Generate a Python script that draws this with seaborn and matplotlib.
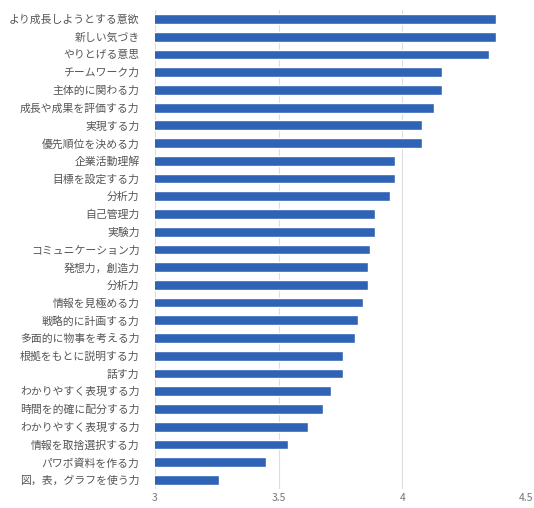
import pandas as pd
import matplotlib
matplotlib.use("Agg")
import matplotlib.pyplot as plt
import seaborn as sns

skills = [
    "より成長しようとする意欲", "新しい気づき", "やりとげる意思", "チームワーク力",
    "主体的に関わる力", "成長や成果を評価する力", "実現する力", "優先順位を決める力",
    "企業活動理解", "目標を設定する力", "分析力", "自己管理力", "実験力",
    "コミュニケーション力", "発想力，創造力", "分析力", "情報を見極める力",
    "戦略的に計画する力", "多面的に物事を考える力", "根拠をもとに説明する力", "話す力",
    "わかりやすく表現する力", "時間を的確に配分する力", "わかりやすく表現する力",
    "情報を取捨選択する力", "パワポ資料を作る力", "図，表，グラフを使う力",
]
scores = [
    4.38, 4.38, 4.35, 4.16, 4.16, 4.13, 4.08, 4.08, 3.97, 3.97, 3.95, 3.89, 3.89,
    3.87, 3.86, 3.86, 3.84, 3.82, 3.81, 3.76, 3.76, 3.71, 3.68, 3.62, 3.54, 3.45, 3.26,
]
xticks = [3, 3.5, 4, 4.5]
xtick_labels = ["3", "3.5", "4", "4.5"]

sns.set_style("white")
plt.rcParams['font.family'] = ['Noto Sans CJK JP', 'DejaVu Sans']

# unique keys so duplicate labels get their own rows
df = pd.DataFrame({"row": [str(i) for i in range(len(skills))], "score": scores})

fig = plt.figure(figsize=(5.34, 5.08), dpi=100)
ax = fig.add_axes([0.290, 0.038, 0.695, 0.942])
sns.barplot(data=df, y="row", x="score", orient="h", color="#2f63b5",
            width=0.55, ax=ax, saturation=1)

ax.set_xlim(3, 4.5)
ax.set_xticks(xticks)
ax.set_xticklabels(xtick_labels)
ax.set_yticks(range(len(skills)))
ax.set_yticklabels(skills)
ax.set_ylim(len(skills) - 0.5, -0.5)
ax.xaxis.grid(True, color="#dddddd", linewidth=0.8)
ax.set_axisbelow(True)
for s in ax.spines.values():
    s.set_visible(False)
ax.tick_params(axis="y", length=0, pad=11, labelsize=7.8, labelcolor="#555555")
ax.tick_params(axis="x", length=0, pad=3, labelsize=7.5, labelcolor="#777777")
ax.set_xlabel("")
ax.set_ylabel("")

fig.savefig("out.png", dpi=100)
